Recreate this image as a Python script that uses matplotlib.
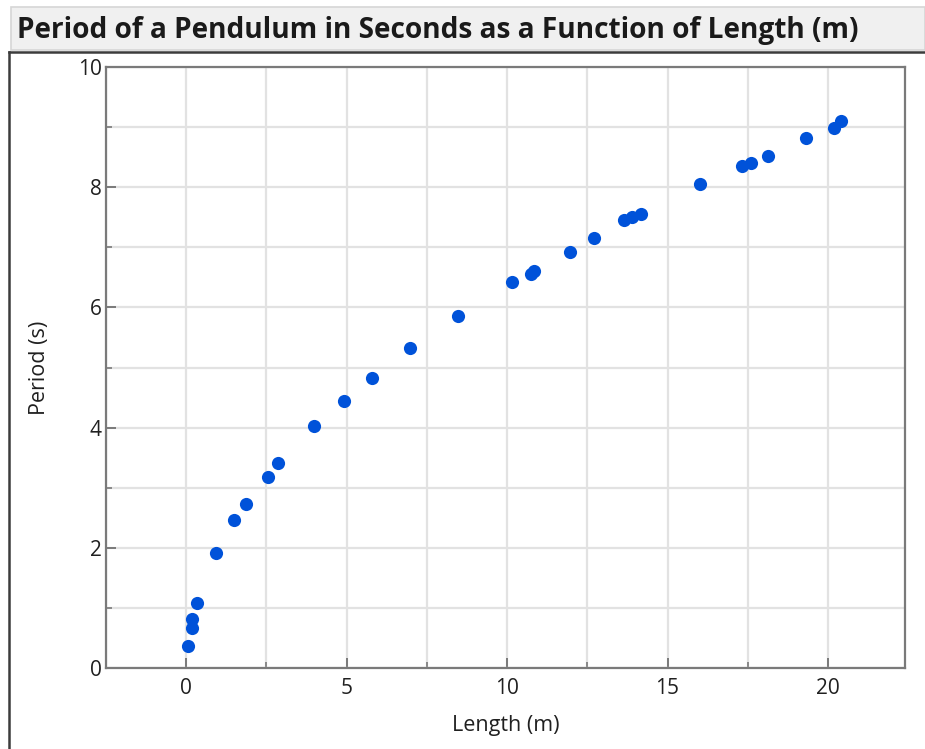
import numpy as np
import matplotlib
matplotlib.use("Agg")
import matplotlib.pyplot as plt
from matplotlib.patches import Rectangle
from matplotlib.lines import Line2D
from matplotlib.ticker import MultipleLocator

# --- Data ---
length_m = [0.06, 0.17, 0.17, 0.35, 0.92, 1.49, 1.85, 2.54, 2.87, 3.98, 4.93,
            5.78, 6.97, 8.47, 10.14, 10.75, 10.85, 11.96, 12.70, 13.63, 13.90,
            14.17, 16.01, 17.33, 17.59, 18.14, 19.32, 20.18, 20.41]
period_s = [0.37, 0.67, 0.81, 1.08, 1.91, 2.46, 2.73, 3.17, 3.41, 4.03, 4.45,
            4.82, 5.32, 5.86, 6.42, 6.55, 6.60, 6.93, 7.16, 7.45, 7.51,
            7.56, 8.05, 8.35, 8.40, 8.52, 8.82, 8.99, 9.10]

TITLE = "Period of a Pendulum in Seconds as a Function of Length (m)"
XLABEL = "Length (m)"
YLABEL = "Period (s)"

plt.rcParams['font.family'] = ['Open Sans', 'DejaVu Sans']

W, H = 925, 749
fig = plt.figure(figsize=(W / 100, H / 100), dpi=100)

def fx(px):
    return px / W

def fy(py):
    return 1 - py / H

# --- title bar and frame ---
fig.patches.append(Rectangle((fx(11), fy(50)), fx(W) - fx(11), fy(7) - fy(50),
                             transform=fig.transFigure, facecolor='#f0f0f0',
                             edgecolor='#d6d6d6', linewidth=1.2, zorder=0))
fig.lines.append(Line2D([fx(9), 1], [fy(52), fy(52)], transform=fig.transFigure,
                        color='#3c3c3c', linewidth=1.8))
fig.lines.append(Line2D([fx(9), fx(9)], [fy(52), 0], transform=fig.transFigure,
                        color='#3c3c3c', linewidth=1.8))
fig.text(fx(17), fy(38), TITLE, fontsize=20.2, fontweight='bold',
         color='#1a1a1a', ha='left', va='baseline')

# --- axes ---
ax = fig.add_axes([fx(106), fy(668), fx(905) - fx(106), fy(67) - fy(668)])
ax.scatter(length_m, period_s, s=90, color='#0052d9', zorder=3, linewidths=0)

ax.set_xlim(-2.5, 22.4)
ax.set_ylim(0, 10)
ax.xaxis.set_major_locator(MultipleLocator(5))
ax.xaxis.set_minor_locator(MultipleLocator(2.5))
ax.yaxis.set_major_locator(MultipleLocator(2))
ax.yaxis.set_minor_locator(MultipleLocator(1))

ax.grid(which='both', color='#e2e2e2', linewidth=1.6, zorder=0)
ax.set_axisbelow(True)

for sp in ax.spines.values():
    sp.set_color('#7a7a7a')
    sp.set_linewidth(1.6)

ax.tick_params(which='major', direction='in', length=7, width=1.4,
               color='#7a7a7a', labelsize=15, labelcolor='#202020', pad=3)
ax.tick_params(axis='x', which='major', pad=7)
ax.tick_params(which='minor', direction='in', length=4, width=1.2,
               color='#7a7a7a')

ax.set_xlabel(XLABEL, fontsize=15.5, color='#202020', labelpad=12)
ax.set_ylabel(YLABEL, fontsize=15.5, color='#202020', labelpad=20)

fig.savefig("out.png", dpi=100)
